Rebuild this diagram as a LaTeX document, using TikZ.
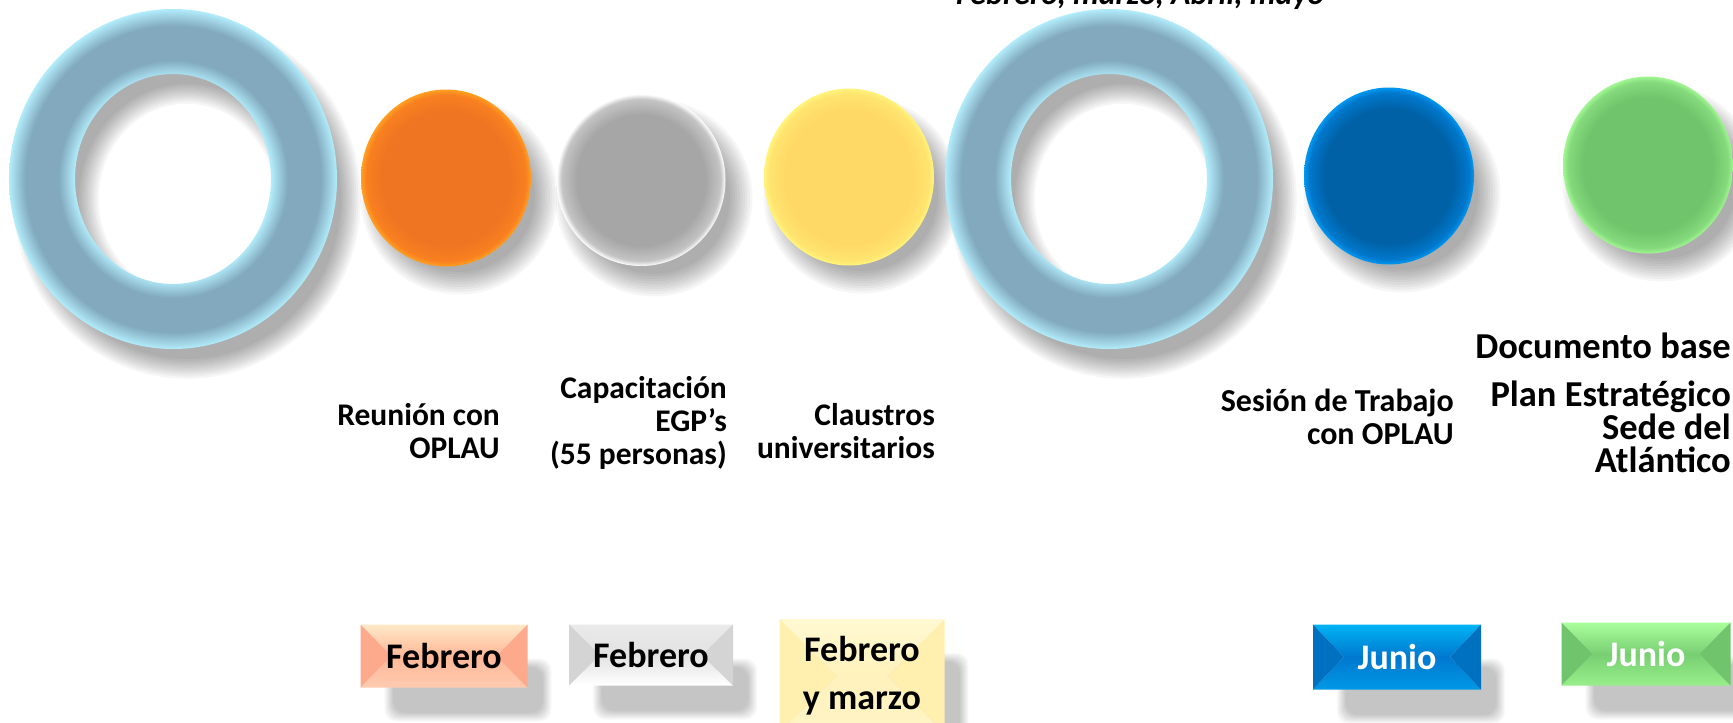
\documentclass[tikz,border=0pt]{standalone}
\usepackage{fontspec}
\setmainfont{Carlito}
\usetikzlibrary{calc,shapes.geometric}

% balls and rings
\definecolor{ringBody}{HTML}{82A9BE}
\definecolor{ringGlow}{HTML}{B2ECFA}
\definecolor{orBody}{HTML}{F07522}
\definecolor{orMid}{HTML}{F98020}
\definecolor{orRim}{HTML}{FFA020}
\definecolor{grBody}{HTML}{A6A6A6}
\definecolor{grMid}{HTML}{C4C4C4}
\definecolor{grRim}{HTML}{FFFFFF}
\definecolor{yeBody}{HTML}{FFD966}
\definecolor{yeMid}{HTML}{FFE470}
\definecolor{yeRim}{HTML}{FFF47C}
\definecolor{blBody}{HTML}{0061A6}
\definecolor{blMid}{HTML}{0078CC}
\definecolor{blRim}{HTML}{0098F2}
\definecolor{gnBody}{HTML}{70C46B}
\definecolor{gnMid}{HTML}{84DA7C}
\definecolor{gnRim}{HTML}{A2F692}
% date boxes
\definecolor{orTop}{HTML}{FFE9C8}
\definecolor{orCen}{HTML}{FFB898}
\definecolor{orBot}{HTML}{FFCBB0}
\definecolor{orSide}{HTML}{FDAA8C}
\definecolor{gyTop}{HTML}{EAEAEA}
\definecolor{gyCen}{HTML}{E2E2E2}
\definecolor{gyBot}{HTML}{FFFFFF}
\definecolor{gySide}{HTML}{D4D4D4}
\definecolor{ylTop}{HTML}{FFF8D2}
\definecolor{ylCen}{HTML}{FFF2BC}
\definecolor{ylBot}{HTML}{FFF4C6}
\definecolor{ylSide}{HTML}{FFF0B0}
\definecolor{buTop}{HTML}{00B4F4}
\definecolor{buCen}{HTML}{0078CF}
\definecolor{buBot}{HTML}{0098E6}
\definecolor{buSide}{HTML}{0070C0}
\definecolor{gbTop}{HTML}{AAFF9C}
\definecolor{gbCen}{HTML}{78CF72}
\definecolor{gbBot}{HTML}{98EE8A}
\definecolor{gbSide}{HTML}{70C46B}

\newcommand\ballshading[4]{\pgfdeclareradialshading{#1}{\pgfpoint{0bp}{0bp}}{color(0bp)=(#2); color(19bp)=(#2); color(23.5bp)=(#3); color(25bp)=(#4); color(50bp)=(#4)}}
\ballshading{orShade}{orBody}{orMid}{orRim}
\ballshading{grShade}{grBody}{grMid}{grRim}
\ballshading{yeShade}{yeBody}{yeMid}{yeRim}
\ballshading{blShade}{blBody}{blMid}{blRim}
\ballshading{gnShade}{gnBody}{gnMid}{gnRim}
\pgfdeclareradialshading{ringShade}{\pgfpoint{0bp}{0bp}}{color(0bp)=(ringGlow); color(15bp)=(ringGlow); color(17.5bp)=(ringBody); color(22.5bp)=(ringBody); color(25bp)=(ringGlow); color(50bp)=(ringGlow)}

\newcommand\lblfont{\fontsize{31.5}{33}\selectfont\bfseries}
\newcommand\bigfont{\fontsize{36.5}{33}\selectfont\bfseries}
\newcommand\boxfont{\fontsize{36}{48}\selectfont\bfseries}
\newcommand\topfont{\fontsize{32}{36}\selectfont\bfseries\itshape}

\pgfdeclarelayer{shadowlayer}
\pgfsetlayers{shadowlayer,main}

\begin{document}
\begin{tikzpicture}[x=1pt,y=-1pt,
    lbl/.style={align=right,anchor=base east,inner sep=0pt,font=\lblfont},
    ball/.style={ellipse,shade,shading=#1,minimum width=170pt,
                 minimum height=177pt,inner sep=0pt},
    softspot/.style={black,opacity=.035},
    bevel/.store in=\bevsize, bevel=31,
    datebox/.style n args={4}{inner sep=0pt,align=center,font=\boxfont,
      path picture={
        \coordinate (tl) at (path picture bounding box.north west);
        \coordinate (tr) at (path picture bounding box.north east);
        \coordinate (bl) at (path picture bounding box.south west);
        \coordinate (br) at (path picture bounding box.south east);
        \coordinate (ml) at ([xshift=\bevsize pt]path picture bounding box.west);
        \coordinate (mr) at ([xshift=-\bevsize pt]path picture bounding box.east);
        \shade[top color=#1,bottom color=#2] (tl) -- (tr) -- (mr) -- (ml) -- cycle;
        \shade[top color=#2,bottom color=#3] (bl) -- (br) -- (mr) -- (ml) -- cycle;
        \fill[#4] (tl) -- (ml) -- (bl) -- cycle (tr) -- (mr) -- (br) -- cycle;
      }}]
  \useasboundingbox (0,0) rectangle (1733,723);

  \coordinate (ringA) at (173,179);
  \coordinate (ringB) at (1109,179);
  \coordinate (cOrange) at (446,178);
  \coordinate (cGray) at (641,180);
  \coordinate (cYellow) at (849,177);
  \coordinate (cBlue) at (1389,176);
  \coordinate (cGreen) at (1648,165);

  % shadows of rings and balls
  \foreach \ring in {ringA,ringB}
    \foreach \k in {0,...,9}
      \fill[softspot,even odd rule]
        ($(\ring)+(14,20)$) circle [x radius=164pt+2.2pt*\k-10pt,y radius=170pt+2.2pt*\k-10pt]
        ($(\ring)+(14,20)$) circle [x radius=98pt-2.2pt*\k+10pt,y radius=105pt-2.2pt*\k+10pt];
  \foreach \c in {cOrange,cGray,cYellow,cBlue,cGreen}
    \foreach \k in {0,...,9}
      \fill[softspot] ($(\c)+(13,18)$) circle [radius=76pt+2.5pt*\k];

  % rings
  \foreach \ring in {ringA,ringB}
    \path[shade,shading=ringShade,even odd rule]
      (\ring) ellipse (164pt and 170pt) (\ring) ellipse (98pt and 105pt);

  % balls
  \node[ball=orShade] (orange) at (cOrange) {};
  \node[ball=grShade,minimum width=169pt,minimum height=172pt] (gray) at (cGray) {};
  \node[ball=yeShade] (yellow) at (cYellow) {};
  \node[ball=blShade] (blue) at (cBlue) {};
  \node[ball=gnShade] (green) at (cGreen) {};

  \node[font=\topfont,anchor=base west,inner sep=0pt] (months) at (956,4)
    {Febrero, marzo, Abril, mayo};

  % labels
  \node[lbl] (reunion) at (500,458) {Reunión con\\OPLAU};
  \node[lbl] (capac) at (727,464) {Capacitación\\EGP’s\\(55 personas)};
  \node[lbl] (claus) at (935,458) {Claustros\\universitarios};
  \node[lbl,font=\fontsize{32}{33}\selectfont\bfseries] (sesion) at (1454,444)
    {Sesión de Trabajo\\con OPLAU};
  \node[lbl,font=\bigfont] (docbase) at (1731,358) {Documento base};
  \node[lbl,font=\bigfont] (plan) at (1731,472) {Plan Estratégico\\Sede del\\Atlántico};

  % date boxes
  \node[datebox={orTop}{orCen}{orBot}{orSide},minimum width=167pt,
        minimum height=63pt] (febA) at (444,656) {Febrero};
  \node[datebox={gyTop}{gyCen}{gyBot}{gySide},minimum width=164pt,
        minimum height=61pt] (febB) at (651,655) {Febrero};
  \node[datebox={ylTop}{ylCen}{ylBot}{ylSide},minimum width=165pt,
        minimum height=114pt,bevel=57] (febC) at (862,676) {Febrero\\y marzo};
  \node[datebox={buTop}{buCen}{buBot}{buSide},text=white,minimum width=168pt,
        minimum height=65pt] (junA) at (1397,657) {Junio};
  \node[datebox={gbTop}{gbCen}{gbBot}{gbSide},text=white,minimum width=169pt,
        minimum height=63pt] (junB) at (1646,654) {Junio};

  % soft shadows of the boxes, under everything
  \begin{pgfonlayer}{shadowlayer}
    \fill[white] (0,0) rectangle (1733,723);
    \foreach \b in {febA,febB,febC,junA,junB}
      \foreach \k [evaluate=\k as \g using 15-3.5*\k] in {0,...,9}
        \fill[black,opacity=.025,rounded corners=12pt]
          ([shift={(24+\g,34+\g)}]\b.north west) rectangle
          ([shift={(24-\g,34-\g)}]\b.south east);
  \end{pgfonlayer}
\end{tikzpicture}
\end{document}
